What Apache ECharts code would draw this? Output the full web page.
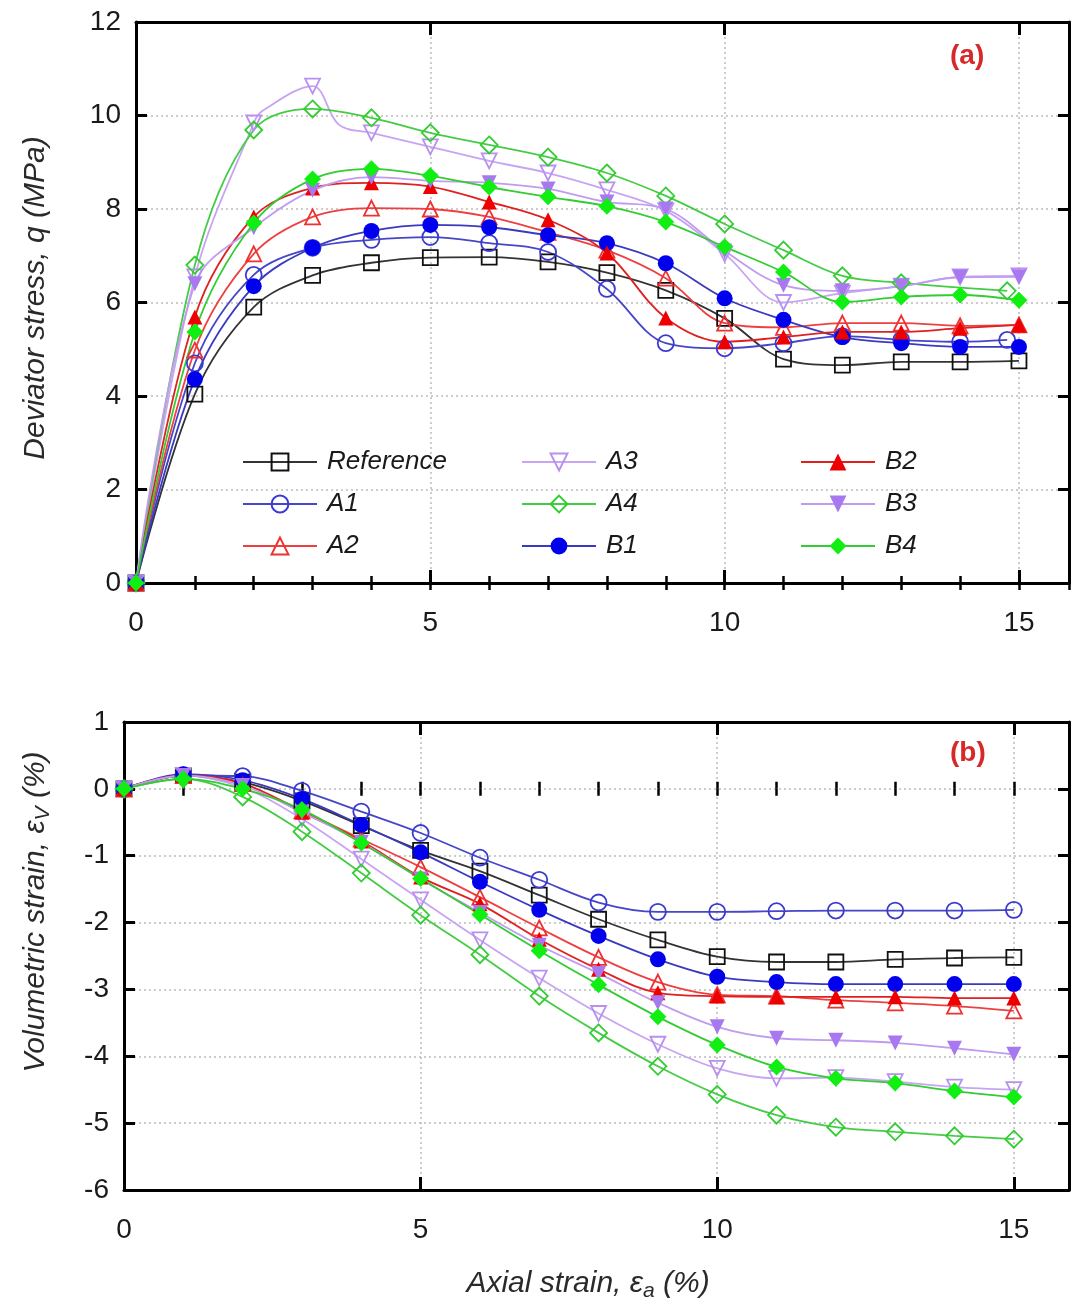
<!DOCTYPE html>
<html>
<head>
<meta charset="utf-8">
<script src="https://cdn.jsdelivr.net/npm/echarts@6/dist/echarts.min.js"></script>
<style>
html,body{margin:0;padding:0;background:#fff;}
#chart{width:1071px;height:1311px;}
</style>
</head>
<body>
<div id="chart"></div>
<script>
// ---- data ----
const strain = [0,1,2,3,4,5,6,7,8,9,10,11,12,13,14,15];
const strainA1q = [0,1,2,3,4,5,6,7,8,9,10,11,12,13,14,14.8];
const strainA4q = [0,1,2,3,4,5,6,7,8,9,10,11,12,13,14.8];

// deviator stress q (MPa)
const qRef = [0, 4.04, 5.90, 6.58, 6.85, 6.96, 6.97, 6.87, 6.64, 6.26, 5.66, 4.79, 4.66, 4.73, 4.73, 4.75];
const qA1  = [0, 4.70, 6.59, 7.17, 7.34, 7.40, 7.27, 7.08, 6.29, 5.13, 5.02, 5.13, 5.28, 5.20, 5.16, 5.20];
const qA2  = [0, 4.98, 7.04, 7.83, 8.02, 8.00, 7.83, 7.50, 7.12, 6.52, 5.56, 5.47, 5.56, 5.56, 5.50, 5.52];
const qA3  = [0, 6.55, 9.84, 10.63, 9.63, 9.33, 9.03, 8.77, 8.41, 7.96, 7.04, 6.00, 6.20, 6.35, 6.55, 6.57];
const qA3extra = [[2.15, 10.1], [3.45, 9.8]];
const qA4  = [0, 6.80, 9.69, 10.14, 9.95, 9.63, 9.37, 9.11, 8.77, 8.28, 7.68, 7.12, 6.57, 6.42, 6.25];
const qB1  = [0, 4.36, 6.35, 7.17, 7.53, 7.66, 7.61, 7.44, 7.27, 6.84, 6.09, 5.63, 5.26, 5.13, 5.05, 5.05];
const qB2  = [0, 5.69, 7.83, 8.45, 8.56, 8.48, 8.15, 7.77, 7.06, 5.67, 5.16, 5.26, 5.37, 5.37, 5.45, 5.52];
const qB3  = [0, 6.40, 7.60, 8.40, 8.68, 8.60, 8.56, 8.43, 8.15, 8.00, 7.10, 6.37, 6.25, 6.35, 6.54, 6.55];
const qB4  = [0, 5.37, 7.70, 8.64, 8.86, 8.71, 8.47, 8.26, 8.06, 7.72, 7.19, 6.65, 6.01, 6.12, 6.16, 6.05];

// volumetric strain (%)
const evRef = [0, 0.20, 0.10, -0.18, -0.55, -0.92, -1.23, -1.59, -1.95, -2.26, -2.51, -2.59, -2.59, -2.55, -2.53, -2.52];
const evA1  = [0, 0.20, 0.19, -0.03, -0.34, -0.66, -1.03, -1.36, -1.70, -1.84, -1.84, -1.83, -1.82, -1.82, -1.82, -1.81];
const evA2  = [0, 0.20, 0.08, -0.33, -0.75, -1.17, -1.62, -2.08, -2.52, -2.89, -3.08, -3.10, -3.16, -3.20, -3.25, -3.32];
const evA3  = [0, 0.20, 0.02, -0.45, -1.05, -1.66, -2.26, -2.83, -3.36, -3.82, -4.18, -4.33, -4.32, -4.38, -4.46, -4.50];
const evA4  = [0, 0.15, -0.12, -0.64, -1.26, -1.89, -2.48, -3.10, -3.65, -4.15, -4.57, -4.88, -5.06, -5.13, -5.19, -5.24];
const evB1  = [0, 0.22, 0.13, -0.15, -0.54, -0.95, -1.39, -1.81, -2.20, -2.55, -2.81, -2.89, -2.92, -2.92, -2.92, -2.92];
const evB2  = [0, 0.20, 0.08, -0.35, -0.78, -1.32, -1.72, -2.25, -2.70, -3.05, -3.10, -3.11, -3.11, -3.11, -3.13, -3.13];
const evB3  = [0, 0.20, 0.05, -0.35, -0.80, -1.35, -1.85, -2.34, -2.76, -3.20, -3.56, -3.73, -3.76, -3.80, -3.88, -3.97];
const evB4  = [0, 0.15, 0.00, -0.31, -0.81, -1.34, -1.88, -2.42, -2.93, -3.41, -3.83, -4.16, -4.33, -4.40, -4.52, -4.61];

const seriesNames = ['Reference','A1','A2','A3','A4','B1','B2','B3','B4'];
const xTickLabels = [0, 5, 10, 15];

// ---- styles ----
const FONT = '"Liberation Sans", Arial, sans-serif';
const styles = {
  Reference: {line:'#333333', edge:'#111111', fill:null, symbol:'rect', size:15, rot:0},
  A1: {line:'#4646c8', edge:'#3a3ad0', fill:null, symbol:'circle', size:16, rot:0},
  A2: {line:'#ee4040', edge:'#ee3030', fill:null, symbol:'triangle', size:15, rot:0},
  A3: {line:'#c8a4f4', edge:'#b890f0', fill:null, symbol:'triangle', size:15, rot:180},
  A4: {line:'#44cc44', edge:'#33cc33', fill:null, symbol:'diamond', size:17, rot:0},
  B1: {line:'#3a3ac0', edge:'#0000ee', fill:'#0000ee', symbol:'circle', size:16, rot:0},
  B2: {line:'#e02020', edge:'#ee0000', fill:'#ee0000', symbol:'triangle', size:15, rot:0},
  B3: {line:'#c09cf0', edge:'#a878f0', fill:'#a878f0', symbol:'triangle', size:15, rot:180},
  B4: {line:'#33cc33', edge:'#11ee11', fill:'#11ee11', symbol:'diamond', size:17, rot:0}
};

function pairs(xs, ys) { return ys.map((y, i) => [xs[i], y]); }

function mkSeries(name, data, xi, yi) {
  const s = styles[name];
  return {
    name: name, type: 'line', xAxisIndex: xi, yAxisIndex: yi,
    data: data, smooth: 0.35,
    symbol: s.symbol, symbolSize: s.size, symbolRotate: s.rot,
    lineStyle: {color: s.line, width: 1.8},
    itemStyle: {color: s.fill || 'rgba(255,255,255,0)', borderColor: s.edge, borderWidth: s.fill ? 0 : 1.8},
    emphasis: {disabled: true},
    animation: false
  };
}

// A3 top with a couple of extra unmarked curve points
const qA3data = pairs(strain, qA3).concat(qA3extra.map(p => ({value: p, symbol: 'none'})))
  .sort((a, b) => (Array.isArray(a) ? a[0] : a.value[0]) - (Array.isArray(b) ? b[0] : b.value[0]));

const topSeries = [
  mkSeries('Reference', pairs(strain, qRef), 0, 0),
  mkSeries('A1', pairs(strainA1q, qA1), 0, 0),
  mkSeries('A2', pairs(strain, qA2), 0, 0),
  mkSeries('A3', qA3data, 0, 0),
  mkSeries('A4', pairs(strainA4q, qA4), 0, 0),
  mkSeries('B1', pairs(strain, qB1), 0, 0),
  mkSeries('B2', pairs(strain, qB2), 0, 0),
  mkSeries('B3', pairs(strain, qB3), 0, 0),
  mkSeries('B4', pairs(strain, qB4), 0, 0)
];
const botSeries = [
  mkSeries('Reference', pairs(strain, evRef), 4, 2),
  mkSeries('A1', pairs(strain, evA1), 4, 2),
  mkSeries('A2', pairs(strain, evA2), 4, 2),
  mkSeries('A3', pairs(strain, evA3), 4, 2),
  mkSeries('A4', pairs(strain, evA4), 4, 2),
  mkSeries('B1', pairs(strain, evB1), 4, 2),
  mkSeries('B2', pairs(strain, evB2), 4, 2),
  mkSeries('B3', pairs(strain, evB3), 4, 2),
  mkSeries('B4', pairs(strain, evB4), 4, 2)
];

const gridLine = {show: true, lineStyle: {color: '#bcbcbc', type: [2, 3], width: 1.5}};
const axisLineStyle = {show: true, onZero: false, lineStyle: {color: '#000', width: 3}};
const labelStyle = {fontSize: 28, color: '#1a1a1a', fontFamily: FONT};

function xAxes(gridIndex, max) {
  return [
    {type: 'value', gridIndex, position: 'bottom', min: 0, max, interval: 5,
     axisLine: axisLineStyle, axisTick: {show: true, inside: true, length: 13, lineStyle: {width: 3, color: '#000'}},
     axisLabel: Object.assign({margin: 26, showMaxLabel: false,
       formatter: v => (xTickLabels.indexOf(v) >= 0 ? String(v) : '')}, labelStyle),
     splitLine: gridLine},
    {type: 'value', gridIndex, position: 'bottom', min: 0, max, interval: 1,
     axisLine: {show: false}, axisTick: {show: true, inside: true, length: 7, lineStyle: {width: 2.5, color: '#000'}},
     axisLabel: {show: false}, splitLine: {show: false}},
    {type: 'value', gridIndex, position: 'top', min: 0, max, interval: 5,
     axisLine: axisLineStyle, axisTick: {show: true, inside: true, length: 13, lineStyle: {width: 3, color: '#000'}},
     axisLabel: {show: false}, splitLine: {show: false}},
    {type: 'value', gridIndex, position: 'top', min: 0, max, interval: 1,
     axisLine: {show: false}, axisTick: {show: true, inside: true, length: 7, lineStyle: {width: 2.5, color: '#000'}},
     axisLabel: {show: false}, splitLine: {show: false}}
  ];
}
function yAxes(gridIndex, min, max, interval) {
  return [
    {type: 'value', gridIndex, position: 'left', min, max, interval,
     axisLine: axisLineStyle, axisTick: {show: true, inside: true, length: 11, lineStyle: {width: 3, color: '#000'}},
     axisLabel: Object.assign({margin: 15}, labelStyle), splitLine: gridLine},
    {type: 'value', gridIndex, position: 'right', min, max, interval,
     axisLine: axisLineStyle, axisTick: {show: true, inside: true, length: 11, lineStyle: {width: 3, color: '#000'}},
     axisLabel: {show: false}, splitLine: {show: false}}
  ];
}

function legendCol(names, left) {
  return {
    show: true, orient: 'vertical', left: left, top: 444,
    data: names, itemWidth: 74, itemHeight: 21, itemGap: 16,
    selectedMode: false,
    textStyle: {fontSize: 26, fontStyle: 'italic', color: '#1a1a1a', fontFamily: FONT, padding: [0, 0, 0, 5]}
  };
}

const subRich = {sub: {fontSize: 21, fontStyle: 'italic', fontFamily: FONT, fill: '#2a2a2a', padding: [14, 0, 0, 0]}};

const option = {
  backgroundColor: '#ffffff',
  animation: false,
  grid: [
    {left: 136, right: 2, top: 22, bottom: 728},
    {left: 124, right: 2, top: 722, bottom: 121}
  ],
  xAxis: xAxes(0, 15.85).concat(xAxes(1, 15.93)),
  yAxis: yAxes(0, 0, 12, 2).concat(yAxes(1, -6, 1, 1)),
  legend: [
    legendCol(['Reference', 'A1', 'A2'], 237),
    legendCol(['A3', 'A4', 'B1'], 516),
    legendCol(['B2', 'B3', 'B4'], 795)
  ],
  graphic: [
    {type: 'text', left: 950, top: 42, style: {text: '(a)', fontSize: 28, fontWeight: 'bold', fill: '#d82828', fontFamily: FONT}},
    {type: 'text', left: 950, top: 739, style: {text: '(b)', fontSize: 28, fontWeight: 'bold', fill: '#d82828', fontFamily: FONT}},
    {type: 'text', x: 36, y: 298, rotation: Math.PI / 2,
     style: {text: 'Deviator stress, q (MPa)', fontSize: 30, fontStyle: 'italic', fill: '#2a2a2a', fontFamily: FONT, align: 'center', verticalAlign: 'middle'}},
    {type: 'text', x: 36, y: 912, rotation: Math.PI / 2,
     style: {text: 'Volumetric strain, ε{sub|V} (%)', rich: subRich, fontSize: 30, fontStyle: 'italic', fill: '#2a2a2a', fontFamily: FONT, align: 'center', verticalAlign: 'middle'}},
    {type: 'text', x: 588, y: 1284,
     style: {text: 'Axial strain, ε{sub|a} (%)', rich: subRich, fontSize: 30, fontStyle: 'italic', fill: '#2a2a2a', fontFamily: FONT, align: 'center', verticalAlign: 'middle'}}
  ],
  series: topSeries.concat(botSeries)
};

const chart = echarts.init(document.getElementById('chart'), null, {renderer: 'canvas'});
chart.setOption(option);
</script>
</body>
</html>
